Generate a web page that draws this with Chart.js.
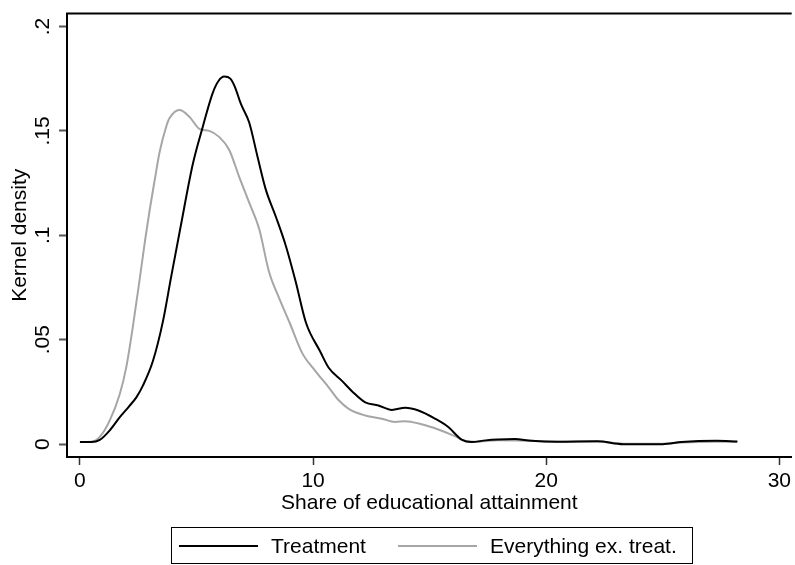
<!DOCTYPE html>
<html>
<head>
<meta charset="utf-8">
<script src="https://cdn.jsdelivr.net/npm/chart.js@4"></script>
<style>
  html, body { margin: 0; padding: 0; background: #fff; }
  #wrap { width: 795px; height: 565px; }
</style>
</head>
<body>
<div id="wrap"><canvas id="densityChart" width="795" height="565"></canvas></div>
<script>
// --- DATA ---
const treatX = [0.0, 0.5, 0.85, 1.28, 1.71, 2.1, 2.42, 2.7, 3.13, 3.56, 3.91, 4.3, 4.84, 5.27, 5.69, 5.95, 6.19, 6.45, 6.65, 6.9, 7.26, 7.61, 7.97, 8.4, 8.83, 9.25, 9.7, 10.3, 10.67, 11.24, 11.7, 12.24, 12.8, 13.38, 13.95, 14.52, 15.23, 15.8, 16.37, 16.8, 17.4, 17.93, 18.65, 19.36, 20.5, 22.2, 23.3, 25.0, 25.8, 27.3, 28.2];
const treatY = [0.001, 0.001, 0.002, 0.0066, 0.0129, 0.018, 0.0224, 0.028, 0.0398, 0.0588, 0.080, 0.103, 0.134, 0.152, 0.168, 0.174, 0.176, 0.175, 0.171, 0.163, 0.154, 0.138, 0.122, 0.109, 0.095, 0.078, 0.058, 0.0445, 0.0366, 0.0303, 0.025, 0.020, 0.0185, 0.0164, 0.0174, 0.0161, 0.0122, 0.0082, 0.0022, 0.001, 0.0018, 0.0022, 0.0024, 0.0016, 0.0012, 0.0014, 0.0, 0.0, 0.001, 0.0016, 0.0013];

const otherX = [0.0, 0.5, 0.85, 1.28, 1.71, 1.99, 2.28, 2.6, 2.8, 2.99, 3.2, 3.42, 3.7, 3.84, 4.27, 4.7, 5.12, 5.55, 5.98, 6.4, 6.83, 7.26, 7.69, 8.11, 8.54, 9.0, 9.53, 10.1, 10.67, 11.1, 11.53, 12.24, 12.95, 13.52, 13.95, 14.66, 15.37, 16.08, 16.51, 16.94, 17.93, 19.36, 20.5, 22.2, 23.3, 25.0, 25.8, 27.3, 28.2];
const otherY = [0.001, 0.0012, 0.0035, 0.0114, 0.024, 0.037, 0.057, 0.082, 0.098, 0.112, 0.126, 0.140, 0.152, 0.156, 0.160, 0.1567, 0.151, 0.150, 0.147, 0.141, 0.128, 0.1156, 0.103, 0.0825, 0.070, 0.058, 0.0437, 0.035, 0.0272, 0.021, 0.0169, 0.0137, 0.0122, 0.0106, 0.011, 0.0095, 0.007, 0.0038, 0.0016, 0.0011, 0.0019, 0.0016, 0.0012, 0.0013, 0.0002, 0.0002, 0.0008, 0.0012, 0.0011];

const seriesLabels = ['Treatment', 'Everything ex. treat.'];
const xTicks = [0, 10, 20, 30];
const yTicks = [0, 0.05, 0.1, 0.15, 0.2];
const yTickLabels = ['0', '.05', '.1', '.15', '.2'];

// --- STYLE ---
const FONT = '"Liberation Sans", Arial, Helvetica, sans-serif';
Chart.defaults.font.family = FONT;
Chart.defaults.font.size = 21;
Chart.defaults.color = '#000';

const toPoints = (xs, ys) => xs.map((x, i) => ({ x: x, y: ys[i] }));

// frame line along the top of the plot region
const topFrame = {
    id: 'topFrame',
    afterDraw(chart) {
        const { ctx, chartArea } = chart;
        ctx.save();
        ctx.strokeStyle = '#000';
        ctx.lineWidth = 2;
        ctx.beginPath();
        ctx.moveTo(chartArea.left - 1, chartArea.top);
        ctx.lineTo(chartArea.right, chartArea.top);
        ctx.stroke();
        ctx.restore();
    }
};

// boxed legend under the x title
const boxLegend = {
    id: 'boxLegend',
    afterDraw(chart) {
        const ctx = chart.ctx;
        const lineStarts = [179, 398];
        const textStarts = [271, 490];
        ctx.save();
        ctx.strokeStyle = '#000';
        ctx.lineWidth = 1;
        ctx.strokeRect(171.5, 527.5, 521, 36);
        ctx.font = '21px ' + FONT;
        ctx.textBaseline = 'alphabetic';
        ctx.textAlign = 'left';
        chart.data.datasets.forEach((ds, i) => {
            ctx.strokeStyle = ds.borderColor;
            ctx.lineWidth = ds.borderWidth;
            ctx.beginPath();
            ctx.moveTo(lineStarts[i], 546);
            ctx.lineTo(lineStarts[i] + 79, 546);
            ctx.stroke();
            ctx.fillStyle = '#000';
            ctx.fillText(ds.label, textStarts[i], 553);
        });
        ctx.restore();
    }
};

new Chart(document.getElementById('densityChart'), {
    type: 'line',
    data: {
        datasets: [
            { label: seriesLabels[0], data: toPoints(treatX, treatY), borderColor: '#000000', borderWidth: 2, order: 1 },
            { label: seriesLabels[1], data: toPoints(otherX, otherY), borderColor: '#a6a6a6', borderWidth: 2, order: 2 }
        ]
    },
    options: {
        responsive: false,
        animation: false,
        layout: { padding: { top: 9, right: 0, bottom: 0, left: 0 } },
        elements: {
            point: { radius: 0 },
            line: { cubicInterpolationMode: 'monotone', fill: false }
        },
        plugins: { legend: { display: false }, tooltip: { enabled: false } },
        scales: {
            x: {
                type: 'linear',
                min: -0.555,
                max: 30.53,
                afterBuildTicks: (s) => { s.ticks = xTicks.map(v => ({ value: v })); },
                afterFit: (s) => { s.height = 108; },
                ticks: { padding: 4, maxRotation: 0, callback: (v) => String(v) },
                grid: { drawOnChartArea: false, tickLength: 8, tickColor: '#333', tickWidth: 1.5 },
                border: { color: '#000', width: 2 },
                title: { display: true, text: 'Share of educational attainment', padding: { top: 0, bottom: 49 } }
            },
            y: {
                min: -0.00616,
                max: 0.20616,
                afterBuildTicks: (s) => { s.ticks = yTicks.map(v => ({ value: v })); },
                afterFit: (s) => { s.width = 67; },
                ticks: {
                    padding: 1,
                    minRotation: 90,
                    maxRotation: 90,
                    crossAlign: 'center',
                    callback: (v) => yTickLabels[yTicks.indexOf(v)]
                },
                grid: { drawOnChartArea: false, tickLength: 8, tickColor: '#555', tickWidth: 2 },
                border: { color: '#000', width: 2 },
                title: { display: true, text: 'Kernel density', padding: { top: 8, bottom: 0 } }
            }
        }
    },
    plugins: [topFrame, boxLegend]
});
</script>
</body>
</html>
